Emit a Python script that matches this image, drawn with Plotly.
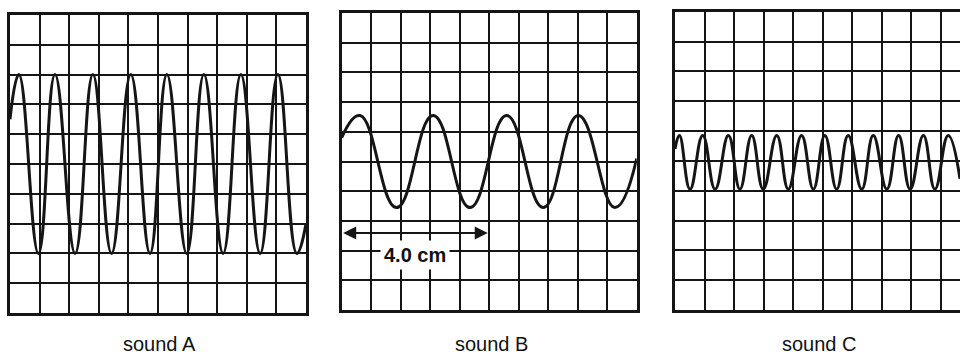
import plotly.graph_objects as go

# Trace key points (extremes) (x and y in screen divisions, 0..10 wide, -5..5 tall)
A_x = [0, 0.30, 0.96, 1.52, 2.20, 2.80, 3.43, 4.08, 4.73, 5.30, 5.97, 6.55, 7.20, 7.80, 8.45, 9.05, 9.69, 10]
A_y = [1.5, 3, -3, 3, -3, 3, -3, 3, -3, 3, -3, 3, -3, 3, -3, 3, -3, -2]

B_x = [0, 0.62, 1.86, 3.10, 4.35, 5.59, 6.83, 8.02, 9.26, 10]
B_y = [0.8, 1.55, -1.55, 1.55, -1.55, 1.55, -1.55, 1.55, -1.55, 0.1]

C_x = [0, 0.15, 0.51, 0.94, 1.36, 1.81, 2.20, 2.60, 2.99, 3.45, 3.84, 4.29, 4.69,
       5.08, 5.48, 5.87, 6.33, 6.72, 7.18, 7.58, 7.97, 8.42, 8.81, 9.26, 9.66]
C_y = [0.4, 0.85, -0.95, 0.85, -0.95, 0.85, -0.95, 0.85, -0.95, 0.85, -0.95, 0.85, -0.95,
       0.85, -0.95, 0.85, -0.95, 0.85, -0.95, 0.85, -0.95, 0.85, -0.95, 0.85, -0.6]

labels = ["sound A", "sound B", "sound C"]
arrow_label = "4.0 cm"
arrow_span = [0, 4.95]
arrow_level = -2.41

W, H = 960, 355
INK = "#151515"

fig = go.Figure()
for i, (xs, ys) in enumerate([(A_x, A_y), (B_x, B_y), (C_x, C_y)]):
    sfx = "" if i == 0 else str(i + 1)
    fig.add_trace(go.Scatter(x=xs, y=ys, mode="lines",
                             line=dict(color=INK, width=3, shape="spline", smoothing=1.3),
                             xaxis="x" + sfx, yaxis="y" + sfx, showlegend=False,
                             hoverinfo="skip"))

def px_dom_x(a, b):
    return [a / W, min(b / W, 1.0)]

def px_dom_y(top, bottom):
    return [1 - bottom / H, 1 - top / H]

panels = [
    dict(xd=px_dom_x(10, 306), yd=px_dom_y(15, 313), xr=[0, 10], right=True),
    dict(xd=px_dom_x(341.7, 636.7), yd=px_dom_y(13, 310), xr=[0, 10], right=True),
    dict(xd=px_dom_x(675, 960), yd=px_dom_y(11.7, 310), xr=[0, (960 - 675) / 29.5], right=False),
]

layout = dict(width=W, height=H, margin=dict(l=0, r=0, t=0, b=0),
              paper_bgcolor="white", plot_bgcolor="white", showlegend=False)
for i, p in enumerate(panels):
    sfx = "" if i == 0 else str(i + 1)
    layout["xaxis" + sfx] = dict(domain=p["xd"], range=p["xr"], dtick=1, tick0=0,
                                 showgrid=True, gridcolor=INK, gridwidth=2,
                                 zeroline=False, showticklabels=False, ticks="",
                                 showline=True, linecolor=INK, linewidth=3, mirror=True,
                                 anchor="y" + sfx, fixedrange=True)
    layout["yaxis" + sfx] = dict(domain=p["yd"], range=[-5, 5], dtick=1, tick0=0,
                                 showgrid=True, gridcolor=INK, gridwidth=2,
                                 zeroline=False, showticklabels=False, ticks="",
                                 showline=True, linecolor=INK, linewidth=3,
                                 mirror=p["right"], anchor="x" + sfx, fixedrange=True)
fig.update_layout(**layout)

label_x = [159, 491, 819]
for lx, txt in zip(label_x, labels):
    fig.add_annotation(x=lx / W, y=1 - 344 / H, xref="paper", yref="paper",
                       xanchor="center", yanchor="middle",
                       text=txt, showarrow=False,
                       font=dict(family="Liberation Sans, Arial", size=20, color="#111"))

# double-headed arrow in sound B
fig.add_annotation(x=arrow_span[1], y=arrow_level, ax=arrow_span[0], ay=arrow_level,
                   xref="x2", yref="y2", axref="x2", ayref="y2", text="",
                   showarrow=True, arrowside="end+start", arrowhead=2, arrowsize=1.3,
                   arrowwidth=2, arrowcolor=INK, standoff=0, startstandoff=0)
fig.add_annotation(x=2.48, y=-3.15, xref="x2", yref="y2", text="<b>" + arrow_label + "</b>",
                   xanchor="center", yanchor="middle",
                   showarrow=False, bgcolor="white", borderpad=3,
                   font=dict(family="Liberation Sans, Arial", size=20, color="#111"))

fig.write_html("out.html", config={"displayModeBar": False},
               post_script="document.body.style.margin='0px';document.body.style.overflow='hidden';")
